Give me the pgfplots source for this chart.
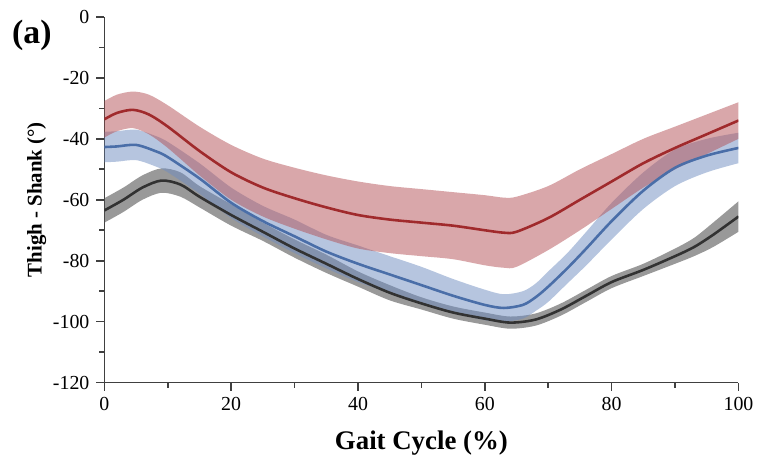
\documentclass[border=0pt]{standalone}
\usepackage{pgfplots}
\pgfplotsset{compat=1.18}
\usepackage{pgfplotstable}
\usepgfplotslibrary{fillbetween}
\usetikzlibrary{calc}
\usepackage{fontspec}
\setmainfont{Liberation Serif}

\definecolor{redline}{RGB}{160,42,44}
\definecolor{redfill}{RGB}{180,80,85}
\definecolor{blueline}{RGB}{74,110,168}
\definecolor{bluefill}{RGB}{110,140,192}
\definecolor{grayline}{RGB}{50,50,50}
\definecolor{grayfill}{RGB}{85,85,85}

% x  lo  m  hi
\pgfplotstableread{
x lo m hi
0 -39.6 -33.6 -27.6
2 -37.5 -31.5 -25.5
4.5 -36.5 -30.5 -24.5
7 -38.5 -32 -25.5
10 -43 -36 -29
15 -52 -44 -36
20 -60 -51 -42
25 -65.5 -56 -46.5
30 -69.5 -59.5 -49.5
35 -73 -62.5 -52
40 -76 -65 -54
45 -77.5 -66.5 -55.5
50 -78.5 -67.5 -56.5
55 -79.5 -68.5 -57.5
60 -81.5 -70 -58.5
63 -82.3 -70.8 -59.3
65 -82 -70.5 -59
70 -76.5 -66 -55.5
75 -70 -60 -50
80 -63 -54 -45
85 -56 -48 -40
90 -50 -43 -36
95 -45 -38.5 -32
100 -40 -34 -28
}\redtab

\pgfplotstableread{
x lo m hi
0 -47.7 -42.7 -37.7
2 -47.5 -42.5 -37.5
5 -47 -42 -37
8 -49 -44 -39
10 -51 -46 -41
15 -58 -53 -48
20 -66 -61 -56
25 -72 -67 -62
30 -77.5 -72 -66.5
35 -82.5 -77 -71.5
40 -87 -81 -75
45 -90.5 -84.5 -78.5
50 -94 -88 -82
55 -97 -91.5 -86
60 -99.5 -94.5 -89.5
63 -100 -95.5 -91
66 -99 -94.5 -90
68 -96.5 -92 -87.5
70 -93.5 -88.5 -83.5
73 -87.5 -82.5 -77.5
76 -81.5 -76 -70.5
80 -73 -67 -61
85 -63 -57 -51
90 -55.5 -49.5 -43.5
95 -51 -45.5 -40
100 -48 -43 -38
}\bluetab

\pgfplotstableread{
x lo m hi
0 -67.5 -63.5 -59.5
3 -64 -60 -56
6 -60 -56 -52
9 -57.7 -53.7 -49.7
12 -59 -55 -51
15 -62.5 -59 -55.5
20 -68.5 -65 -61.5
25 -73.5 -70.5 -67.5
30 -79 -76 -73
35 -84 -81 -78
40 -88.5 -86 -83.5
45 -93 -90.5 -88
50 -96 -94 -92
55 -99 -97 -95
60 -101 -99 -97
64 -102.3 -100.3 -98.3
68 -101.3 -99.3 -97.3
72 -98 -96 -94
76 -93.5 -91.5 -89.5
80 -89 -87 -85
85 -85 -83 -81
90 -81 -78.5 -76
93 -78.5 -75.5 -72.5
96 -75.5 -71.5 -67.5
100 -70.5 -65.5 -60.5
}\graytab

\begin{document}
\begin{tikzpicture}
\begin{axis}[
  name=main,
  scale only axis,
  width=319pt, height=184pt,
  xmin=0, xmax=100, ymin=-120, ymax=0,
  axis lines=left,
  axis line style={-, line width=0.8pt, black!75},
  xtick={0,20,...,100}, ytick={-120,-100,...,0},
  minor xtick={10,30,...,90}, minor ytick={-110,-90,...,-10},
  tick align=outside,
  major tick length=4pt, minor tick length=2.5pt,
  tick style={black!75, line width=0.8pt},
  tick label style={font=\fontsize{10}{12}\selectfont},
  /pgf/number format/assume math mode=true,
  xlabel={\bfseries Gait Cycle (\%)},
  ylabel={\bfseries Thigh - Shank (°)},
  xlabel style={font=\fontsize{13.5}{15}\selectfont, yshift=-3pt},
  ylabel style={font=\fontsize{10.5}{12}\selectfont, yshift=-3.5pt},
  clip=true,
]
% bands
\addplot[draw=none, name path=rlo, smooth] table[x=x, y=lo] {\redtab};
\addplot[draw=none, name path=rhi, smooth] table[x=x, y=hi] {\redtab};
\addplot[draw=none, name path=blo, smooth] table[x=x, y=lo] {\bluetab};
\addplot[draw=none, name path=bhi, smooth] table[x=x, y=hi] {\bluetab};
\addplot[draw=none, name path=glo, smooth] table[x=x, y=lo] {\graytab};
\addplot[draw=none, name path=ghi, smooth] table[x=x, y=hi] {\graytab};

\addplot[grayfill, fill opacity=0.6] fill between[of=glo and ghi];
\addplot[bluefill, fill opacity=0.5] fill between[of=blo and bhi];
\addplot[redfill, fill opacity=0.5] fill between[of=rlo and rhi];

% means
\addplot[grayline, line width=1.3pt, smooth] table[x=x, y=m] {\graytab};
\addplot[blueline, line width=1.3pt, smooth] table[x=x, y=m] {\bluetab};
\addplot[redline, line width=1.3pt, smooth] table[x=x, y=m] {\redtab};
\end{axis}
\node[font=\fontsize{17}{19}\selectfont\bfseries] at ($(main.north west)+(-36.5pt,-9.5pt)$) {(a)};
\path[use as bounding box] ($(main.south west)+(-52.5pt,-37.5pt)$) rectangle ($(main.north east)+(8.5pt,8.5pt)$);
\end{tikzpicture}
\end{document}
